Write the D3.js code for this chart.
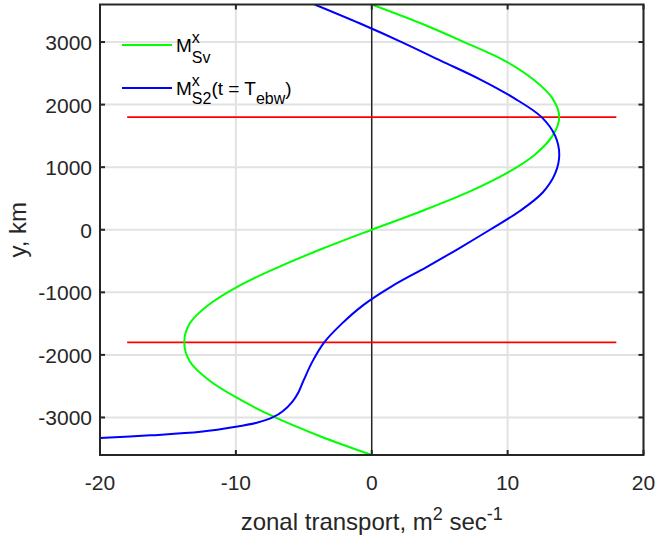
<!DOCTYPE html>
<html lang="en">
<head>
    <meta charset="UTF-8">
    <title>Zonal transport</title>
    <script src="https://d3js.org/d3.v7.min.js"></script>
    <style>
        body { margin: 0; background: #fff; }
        text { font-family: "Liberation Sans", Arial, sans-serif; }
    </style>
</head>
<body>
<script>
    let width = 655;
    let height = 541;

    // y (km) and zonal transport (m^2/s)
    const svY = [3600, 3300, 3000, 2700, 2400, 2100, 1800, 1500, 1200, 900, 600, 300, 0,
        -300, -600, -900, -1200, -1500, -1800, -2100, -2400, -2700, -3000, -3300, -3600];
    const svX = [0, 3.6, 6.8, 9.8, 11.9, 13.3, 13.8, 13.3, 12.0, 9.9, 7.1, 3.7, 0,
        -3.6, -6.9, -9.8, -12.0, -13.4, -13.8, -13.4, -12.0, -9.8, -7.1, -3.8, 0];

    const s2Y = [3600, 3300, 3000, 2700, 2400, 2100, 1800, 1500, 1200, 900, 600, 300, 0,
        -300, -600, -900, -1200, -1500, -1800, -2100, -2400, -2600, -2750, -2900, -3000,
        -3080, -3150, -3230, -3285, -3327];
    const s2X = [-4.2, -0.9, 2.2, 5.1, 8.0, 10.5, 12.5, 13.5, 13.8, 13.5, 12.6, 10.9, 8.7,
        6.4, 4.0, 1.5, -0.6, -2.2, -3.5, -4.35, -5.0, -5.4, -5.85, -6.55, -7.3,
        -8.4, -10, -12.6, -16.3, -20];

    // latitude band limits (red lines)
    const bandY = [1800, -1800];
    const bandX = [-18, 18];

    const xTicks = [-20, -10, 0, 10, 20];
    const yTicks = [-3000, -2000, -1000, 0, 1000, 2000, 3000];

    let margin = { left: 100, right: 11.5, top: 4.5, bottom: 86 };
    let pw = width - margin.left - margin.right;
    let ph = height - margin.top - margin.bottom;

    let svg = d3.select("body")
        .append("svg")
        .attr("width", width)
        .attr("height", height);

    let x = d3.scaleLinear().domain([-20, 20]).range([0, pw]);
    let y = d3.scaleLinear().domain([-3600, 3600]).range([ph, 0]);

    let g = svg.append("g").attr("transform", `translate(${margin.left},${margin.top})`);

    g.append("clipPath").attr("id", "clip")
        .append("rect").attr("width", pw).attr("height", ph);

    // grid
    g.selectAll(".gx").data(xTicks).enter().append("line")
        .attr("x1", d => x(d)).attr("x2", d => x(d))
        .attr("y1", 0).attr("y2", ph)
        .style("stroke", "#e2e2e2").style("stroke-width", 2);
    g.selectAll(".gy").data(yTicks).enter().append("line")
        .attr("x1", 0).attr("x2", pw)
        .attr("y1", d => y(d)).attr("y2", d => y(d))
        .style("stroke", "#e2e2e2").style("stroke-width", 2);

    let plot = g.append("g").attr("clip-path", "url(#clip)");

    // x = 0 line
    plot.append("line")
        .attr("x1", x(0)).attr("x2", x(0))
        .attr("y1", 0).attr("y2", ph)
        .style("stroke", "#000").style("stroke-width", 1.2);

    // red band lines
    plot.selectAll(".band").data(bandY).enter().append("line")
        .attr("x1", x(bandX[0])).attr("x2", x(bandX[1]))
        .attr("y1", d => y(d)).attr("y2", d => y(d))
        .style("stroke", "#ff0000").style("stroke-width", 1.6);

    let line = d3.line()
        .x(d => x(d[0]))
        .y(d => y(d[1]))
        .curve(d3.curveCatmullRom.alpha(0.5));

    plot.append("path")
        .datum(svX.map((v, i) => [v, svY[i]]))
        .attr("d", line)
        .style("fill", "none").style("stroke", "#00ff00").style("stroke-width", 2);

    plot.append("path")
        .datum(s2X.map((v, i) => [v, s2Y[i]]))
        .attr("d", line)
        .style("fill", "none").style("stroke", "#0000ff").style("stroke-width", 2);

    // axes (box with inward ticks on all four sides)
    let axColor = "#262626";
    let tickLen = 5;
    g.append("rect").attr("width", pw).attr("height", ph)
        .style("fill", "none").style("stroke", axColor).style("stroke-width", 2);

    xTicks.forEach(t => {
        g.append("line").attr("x1", x(t)).attr("x2", x(t)).attr("y1", ph).attr("y2", ph - tickLen)
            .style("stroke", axColor).style("stroke-width", 2);
        g.append("line").attr("x1", x(t)).attr("x2", x(t)).attr("y1", 0).attr("y2", tickLen)
            .style("stroke", axColor).style("stroke-width", 2);
        g.append("text").attr("x", x(t)).attr("y", ph + 35)
            .attr("text-anchor", "middle")
            .style("font-size", "21px").style("fill", axColor)
            .text(String(t));
    });

    yTicks.forEach(t => {
        g.append("line").attr("x1", 0).attr("x2", tickLen).attr("y1", y(t)).attr("y2", y(t))
            .style("stroke", axColor).style("stroke-width", 2);
        g.append("line").attr("x1", pw).attr("x2", pw - tickLen).attr("y1", y(t)).attr("y2", y(t))
            .style("stroke", axColor).style("stroke-width", 2);
        g.append("text").attr("x", -8).attr("y", y(t) + 8)
            .attr("text-anchor", "end")
            .style("font-size", "21px").style("fill", axColor)
            .text(String(t));
    });

    // axis labels
    let xl = svg.append("text")
        .attr("x", margin.left + pw / 2).attr("y", 530)
        .attr("text-anchor", "middle")
        .style("font-size", "24px").style("fill", axColor);
    xl.append("tspan").text("zonal transport, m");
    xl.append("tspan").attr("dy", -10).style("font-size", "18px").text("2");
    xl.append("tspan").attr("dy", 10).text(" sec");
    xl.append("tspan").attr("dy", -10).style("font-size", "18px").text("-1");

    svg.append("text")
        .attr("transform", `translate(26,${margin.top + ph / 2}) rotate(-90)`)
        .attr("text-anchor", "middle")
        .style("font-size", "24px").style("fill", axColor)
        .text("y, km");

    // legend: each part placed after the previous one, 'stack' keeps the sup above the sub
    function richText(sel, x0, y0, parts) {
        let cx = x0;
        parts.forEach(p => {
            let t = sel.append("text")
                .attr("x", cx).attr("y", y0 + (p.shift || 0))
                .style("font-size", p.size + "px").style("fill", "#000")
                .text(p.t);
            let w = t.node().getComputedTextLength();
            if (!p.stack) cx += w;
        });
    }

    let leg = svg.append("g");
    leg.append("line").attr("x1", 122).attr("x2", 172).attr("y1", 45).attr("y2", 45)
        .style("stroke", "#00ff00").style("stroke-width", 2);
    richText(leg, 176, 52, [
        { t: "M", size: 19 },
        { t: "x", size: 16, shift: -9, stack: true },
        { t: "Sv", size: 16, shift: 11 }
    ]);

    leg.append("line").attr("x1", 122).attr("x2", 172).attr("y1", 88).attr("y2", 88)
        .style("stroke", "#0000ff").style("stroke-width", 2);
    richText(leg, 176, 95, [
        { t: "M", size: 19 },
        { t: "x", size: 16, shift: -9, stack: true },
        { t: "S2", size: 16, shift: 9 },
        { t: "(t = T", size: 19 },
        { t: "ebw", size: 16, shift: 9 },
        { t: ")", size: 19 }
    ]);
</script>
</body>
</html>
